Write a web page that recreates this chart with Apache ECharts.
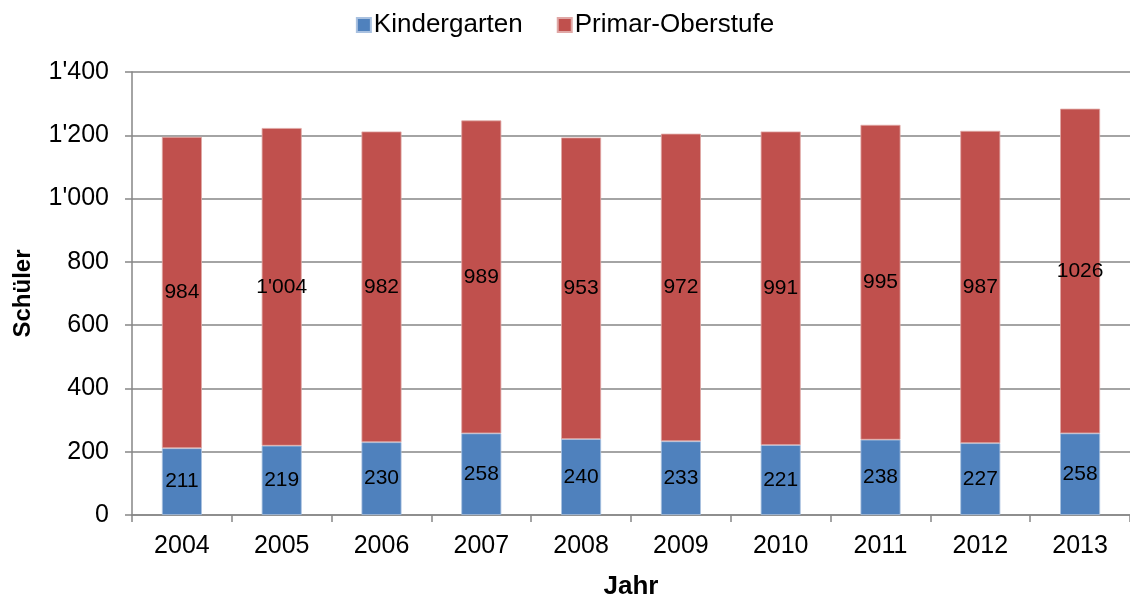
<!DOCTYPE html>
<html>
<head>
<meta charset="utf-8">
<script src="https://cdn.jsdelivr.net/npm/echarts@6/dist/echarts.min.js"></script>
<style>
  html, body { margin: 0; padding: 0; background: #fff; }
  #chart { width: 1130px; height: 605px; }
</style>
</head>
<body>
<div id="chart"></div>
<script>
const years = ['2004', '2005', '2006', '2007', '2008', '2009', '2010', '2011', '2012', '2013']
const kindergarten = [211, 219, 230, 258, 240, 233, 221, 238, 227, 258]
const primar = [984, 1004, 982, 989, 953, 972, 991, 995, 987, 1026]
// labels as printed in the original (one without separator)
const primarLabels = ['984', "1'004", '982', '989', '953', '972', '991', '995', '987', '1026']

function fmt(v) {
  return String(v).replace(/\B(?=(\d{3})+(?!\d))/g, "'")
}

const chart = echarts.init(document.getElementById('chart'))
const font = 'Liberation Sans, Arial, sans-serif'

chart.setOption({
  animation: false,
  textStyle: { fontFamily: font },
  legend: {
    top: 7,
    left: 'center',
    itemWidth: 14,
    itemHeight: 14,
    itemGap: 34,
    icon: 'rect',
    textStyle: { fontSize: 26, color: '#000', fontFamily: font, padding: [0, 0, 0, -2] }
  },
  grid: { left: 132, right: 0, top: 72, bottom: 88 },
  xAxis: {
    type: 'category',
    data: years,
    name: 'Jahr',
    nameLocation: 'middle',
    nameGap: 59,
    nameTextStyle: { fontSize: 26, fontWeight: 'bold', color: '#000' },
    axisLine: { lineStyle: { color: '#868686', width: 1.5 } },
    axisTick: { show: true, length: 7, lineStyle: { color: '#868686', width: 1.5 } },
    axisLabel: { fontSize: 25, color: '#000', margin: 19 }
  },
  yAxis: {
    type: 'value',
    min: 0,
    max: 1400,
    interval: 200,
    name: 'Schüler',
    nameLocation: 'middle',
    nameGap: 97,
    nameRotate: 90,
    nameTextStyle: { fontSize: 24, fontWeight: 'bold', color: '#000' },
    axisLine: { show: true, lineStyle: { color: '#868686', width: 1.5 } },
    axisTick: { show: true, length: 7, lineStyle: { color: '#868686', width: 1.5 } },
    splitLine: { lineStyle: { color: '#868686', width: 1.5 } },
    axisLabel: { fontSize: 25, color: '#000', margin: 23, formatter: fmt }
  },
  series: [
    {
      name: 'Kindergarten',
      type: 'bar',
      stack: 'total',
      barWidth: 40,
      data: kindergarten,
      itemStyle: { color: '#4F81BD', borderColor: '#a9c1e0', borderWidth: 0.8 },
      label: { show: true, position: 'inside', fontSize: 21, color: '#000', fontFamily: font }
    },
    {
      name: 'Primar-Oberstufe',
      type: 'bar',
      stack: 'total',
      barWidth: 40,
      data: primar,
      itemStyle: { color: '#C0504D', borderColor: '#e0a8a6', borderWidth: 0.8 },
      label: {
        show: true, position: 'inside', fontSize: 21, color: '#000', fontFamily: font,
        formatter: p => primarLabels[p.dataIndex]
      }
    }
  ]
})
</script>
</body>
</html>
